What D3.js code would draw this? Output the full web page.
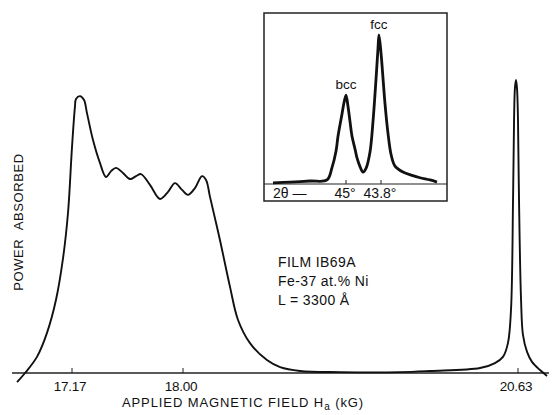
<!DOCTYPE html>
<html lang="en">
<head>
  <meta charset="UTF-8" />
  <title>Power absorbed vs applied field</title>
  <style>
    *{margin:0;padding:0}
    body{background:#fff;width:552px;height:415px;overflow:hidden}
    svg text{font-family:"Liberation Sans",Arial,sans-serif;fill:#111}
  </style>
</head>
<body>
  <div id="chart"></div>
  <script src="https://d3js.org/d3.v7.min.js"></script>
  <script>
    // main trace: applied field (kG) vs power absorbed (arb.)
    const field = [16.759,16.819,16.908,16.983,17.050,17.103,17.140,17.170,17.192,17.200,17.230,17.260,17.282,17.327,17.379,17.424,
                   17.462,17.499,17.551,17.604,17.649,17.686,17.753,17.828,17.888,17.940,17.993,18.039,18.094,18.149,18.181,
                   18.212,18.290,18.369,18.432,18.526,18.659,18.762,18.919,19.233,19.704,19.939,20.332,20.449,20.512,20.551,
                   20.575,20.591,20.599,20.606,20.614,20.622,20.630,20.638,20.654,20.669,20.701,20.740,20.803,20.858];
    const power = [-0.031,0.000,0.055,0.137,0.249,0.392,0.546,0.771,0.908,0.935,0.945,0.932,0.887,0.795,0.717,0.669,
                   0.689,0.700,0.683,0.662,0.672,0.679,0.642,0.594,0.618,0.648,0.625,0.608,0.631,0.672,0.659,
                   0.601,0.454,0.294,0.181,0.102,0.044,0.020,0.007,0.003,0.003,0.007,0.017,0.034,0.055,0.102,
                   0.215,0.590,0.863,0.973,1.000,0.973,0.863,0.590,0.249,0.130,0.072,0.038,0.010,-0.010];
    const fieldTicks = [17.17, 18.00, 20.63];
    const fieldTickLabels = ['17.17', '18.00', '20.63'];

    // inset: x-ray diffraction, 2-theta (deg) vs intensity
    const twoTheta = [47.503,46.920,46.234,45.651,45.480,45.343,45.274,45.137,45.069,45.000,44.931,44.863,44.794,44.691,
                      44.623,44.520,44.417,44.314,44.177,44.074,43.972,43.903,43.869,43.800,43.766,43.663,43.560,43.457,
                      43.320,43.046,42.737,42.463,42.120,41.880];
    const intensity = [0.007,0.013,0.020,0.027,0.110,0.220,0.320,0.470,0.545,0.597,0.520,0.420,0.320,0.235,
                       0.175,0.117,0.080,0.105,0.215,0.420,0.700,0.910,1.000,0.880,0.800,0.540,0.340,0.200,
                       0.120,0.080,0.058,0.042,0.027,0.013];
    const insetTicks = [45, 43.8];
    const insetTickLabels = ['45°', '43.8°'];
    const peakNames = ['bcc', 'fcc'];
    const peakPos = [45.0, 43.869];
    const peakVal = [0.597, 1.0];
    const sampleNotes = ['FILM  IB69A', 'Fe-37 at.% Ni', 'L = 3300 Å'];

    const W = 552, H = 415;
    const svg = d3.select('#chart').append('svg')
      .attr('width', W).attr('height', H);

    // field axis is not linear in the original, so use a piecewise scale
    const x = d3.scaleLinear().domain([17.17, 18.00, 20.63]).range([72, 183, 518]);
    const y = d3.scaleLinear().domain([0, 1]).range([373, 80]);

    // axis line
    svg.append('line')
      .attr('x1', 12).attr('x2', 549)
      .attr('y1', y(0)).attr('y2', y(0))
      .attr('stroke', '#222').attr('stroke-width', 1.4);

    fieldTicks.forEach((t, i) => {
      svg.append('line')
        .attr('x1', x(t)).attr('x2', x(t))
        .attr('y1', y(0)).attr('y2', y(0) - 5)
        .attr('stroke', '#222').attr('stroke-width', 1);
      svg.append('text')
        .attr('x', x(t) - 2).attr('y', 391)
        .attr('text-anchor', 'middle')
        .attr('font-size', 13.5)
        .attr('letter-spacing', -0.3)
        .text(fieldTickLabels[i]);
    });

    const line = d3.line()
      .x((d, i) => x(field[i]))
      .y(d => y(d))
      .curve(d3.curveCatmullRom.alpha(0.5));

    svg.append('path')
      .datum(power)
      .attr('d', line)
      .attr('fill', 'none')
      .attr('stroke', '#111')
      .attr('stroke-width', 1.9);

    // axis titles
    const xt = svg.append('text')
      .attr('x', 243).attr('y', 407)
      .attr('text-anchor', 'middle')
      .attr('font-size', 13)
      .attr('letter-spacing', 0.9);
    xt.append('tspan').text('APPLIED MAGNETIC FIELD H');
    xt.append('tspan').attr('font-size', 10).attr('dy', 3).text('a');
    xt.append('tspan').attr('dy', -3).text(' (kG)');

    svg.append('text')
      .attr('transform', 'translate(23,222) rotate(-90)')
      .attr('text-anchor', 'middle')
      .attr('font-size', 13)
      .attr('letter-spacing', 0.6)
      .attr('word-spacing', 5)
      .text('POWER ABSORBED');

    // sample notes
    svg.selectAll('.note')
      .data(sampleNotes)
      .join('text')
      .attr('class', 'note')
      .attr('x', 278)
      .attr('y', (d, i) => 267 + i * 19)
      .attr('font-size', 14)
      .attr('letter-spacing', 0.4)
      .text(d => d);

    // inset
    const box = {x0: 264, x1: 447, y0: 13, y1: 201};
    const g = svg.append('g');
    g.append('rect')
      .attr('x', box.x0).attr('y', box.y0)
      .attr('width', box.x1 - box.x0).attr('height', box.y1 - box.y0)
      .attr('fill', '#fff').attr('stroke', '#222').attr('stroke-width', 1.5);

    const ix = d3.scaleLinear().domain([45, 43.8]).range([346, 381]);
    const iy = d3.scaleLinear().domain([0, 1]).range([184, 35]);

    g.append('line')
      .attr('x1', box.x0).attr('x2', box.x1)
      .attr('y1', iy(0)).attr('y2', iy(0))
      .attr('stroke', '#222').attr('stroke-width', 1.2);

    insetTicks.forEach((t, i) => {
      g.append('line')
        .attr('x1', ix(t)).attr('x2', ix(t))
        .attr('y1', iy(0)).attr('y2', iy(0) - 4)
        .attr('stroke', '#222').attr('stroke-width', 1);
      g.append('text')
        .attr('x', ix(t) - 1).attr('y', 198)
        .attr('text-anchor', 'middle')
        .attr('font-size', 14)
        .text(insetTickLabels[i]);
    });
    g.append('text')
      .attr('x', 273).attr('y', 198)
      .attr('font-size', 14)
      .text('2θ —');

    const iline = d3.line()
      .x((d, i) => ix(twoTheta[i]))
      .y(d => iy(d))
      .curve(d3.curveCatmullRom);

    g.append('path')
      .datum(intensity)
      .attr('d', iline)
      .attr('fill', 'none')
      .attr('stroke', '#111')
      .attr('stroke-width', 2.8)
      .attr('stroke-linejoin', 'round');

    peakNames.forEach((n, i) => {
      g.append('text')
        .attr('x', ix(peakPos[i])).attr('y', iy(peakVal[i]) - 6)
        .attr('text-anchor', 'middle')
        .attr('font-size', 13.5)
        .text(n);
    });
  </script>
</body>
</html>
